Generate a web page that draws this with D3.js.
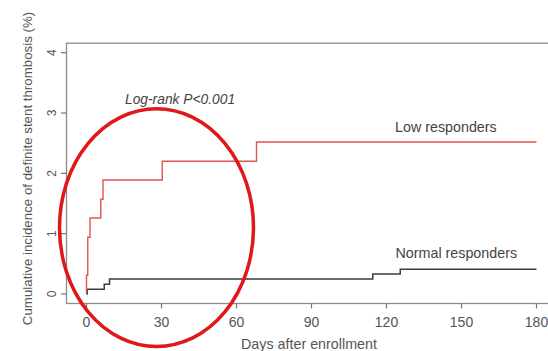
<!DOCTYPE html>
<html>
<head>
<meta charset="utf-8">
<script src="https://cdn.jsdelivr.net/npm/d3@7"></script>
<style>
  html, body { margin: 0; padding: 0; background: #fff; }
  svg { display: block; font-family: "Liberation Sans", Arial, sans-serif; }
</style>
</head>
<body>
<svg id="chart" width="548" height="351"></svg>
<script>
// Kaplan-Meier style cumulative incidence of definite stent thrombosis
const lowDays      = [0, 0,    0.5,  1.4,  5.7,  6.6,  30.3, 68,   180];
const lowValues    = [0, 0.31, 0.94, 1.26, 1.57, 1.89, 2.20, 2.52, 2.52];
const normalDays   = [0, 0.3,  7.1,  9.2,  114.5, 125.5, 180];
const normalValues = [0, 0.08, 0.16, 0.25, 0.33,  0.41,  0.41];

const xTicks = [0, 30, 60, 90, 120, 150, 180];
const yTicks = [0, 1, 2, 3, 4];

const seriesLabels = ["Low responders", "Normal responders"];
const statLabel = "Log-rank P<0.001";
const xTitle = "Days after enrollment";
const yTitle = "Cumulative incidence of definite stent thrombosis (%)";

// highlighted region (centre day, centre %, half-width in days, half-height in %)
const highlight = { day: 28, value: 1.1, rDays: 38.8, rValue: 1.97 };

const svg = d3.select("#chart");
const textColor = "#555";

const x = d3.scaleLinear().domain([0, 180]).range([86.5, 536.5]);
const y = d3.scaleLinear().domain([0, 4]).range([294, 52.7]);

// plot frame (extends past the right edge of the window)
const padX = 20, padY = 9.5;
svg.append("rect")
  .attr("x", x(0) - padX).attr("y", y(4) - padY)
  .attr("width", x(180) - x(0) + 2 * padX + 20)
  .attr("height", y(0) - y(4) + 2 * padY)
  .attr("fill", "none").attr("stroke", "#8c8c8c").attr("stroke-width", 1.3);

const frameLeft = x(0) - padX;
const frameBottom = y(0) + padY;

// y axis ticks and labels
const yAxis = svg.append("g");
yAxis.selectAll("line").data(yTicks).join("line")
  .attr("x1", frameLeft - 5.5).attr("x2", frameLeft)
  .attr("y1", d => y(d)).attr("y2", d => y(d))
  .attr("stroke", "#777").attr("stroke-width", 1.2);
yAxis.selectAll("text").data(yTicks).join("text")
  .attr("transform", d => `translate(56,${y(d)}) rotate(-90)`)
  .attr("text-anchor", "middle")
  .attr("font-size", 12).attr("fill", textColor)
  .text(d => d);

// x axis ticks and labels
const xAxis = svg.append("g");
xAxis.selectAll("line").data(xTicks).join("line")
  .attr("x1", d => x(d)).attr("x2", d => x(d))
  .attr("y1", frameBottom).attr("y2", frameBottom + 5)
  .attr("stroke", "#777").attr("stroke-width", 1.2);
xAxis.selectAll("text").data(xTicks).join("text")
  .attr("x", d => x(d)).attr("y", 326.5)
  .attr("text-anchor", "middle")
  .attr("font-size", 14).attr("fill", textColor)
  .text(d => d);

// axis titles
svg.append("text")
  .attr("x", 309).attr("y", 349)
  .attr("text-anchor", "middle")
  .attr("font-size", 14.3).attr("fill", textColor)
  .text(xTitle);
svg.append("text")
  .attr("transform", "translate(32,168.5) rotate(-90)")
  .attr("text-anchor", "middle")
  .attr("font-size", 13.3).attr("fill", textColor)
  .text(yTitle);

// step curves
const step = d3.line()
  .x(d => x(d[0])).y(d => y(d[1]))
  .curve(d3.curveStepAfter);

svg.append("path")
  .datum(normalDays.map((d, i) => [d, normalValues[i]]))
  .attr("d", step)
  .attr("fill", "none").attr("stroke", "#3d3d3d").attr("stroke-width", 1.5);

svg.append("path")
  .datum(lowDays.map((d, i) => [d, lowValues[i]]))
  .attr("d", step)
  .attr("fill", "none").attr("stroke", "#e2554c").attr("stroke-width", 1.4);

// curve labels
svg.append("text")
  .attr("x", 395).attr("y", 132)
  .attr("font-size", 14.3).attr("fill", "#444")
  .text(seriesLabels[0]);
svg.append("text")
  .attr("x", 395.5).attr("y", 257.5)
  .attr("font-size", 14.3).attr("fill", "#444")
  .text(seriesLabels[1]);

// test statistic
svg.append("text")
  .attr("x", 125).attr("y", 104)
  .attr("font-size", 13.8).attr("font-style", "italic").attr("fill", "#444")
  .text(statLabel);

// hand-drawn highlight ellipse around the early events
svg.append("ellipse")
  .attr("cx", x(highlight.day))
  .attr("cy", y(highlight.value))
  .attr("rx", x(highlight.rDays) - x(0))
  .attr("ry", y(0) - y(highlight.rValue))
  .attr("fill", "none").attr("stroke", "#e01818").attr("stroke-width", 3.5);
</script>
</body>
</html>
